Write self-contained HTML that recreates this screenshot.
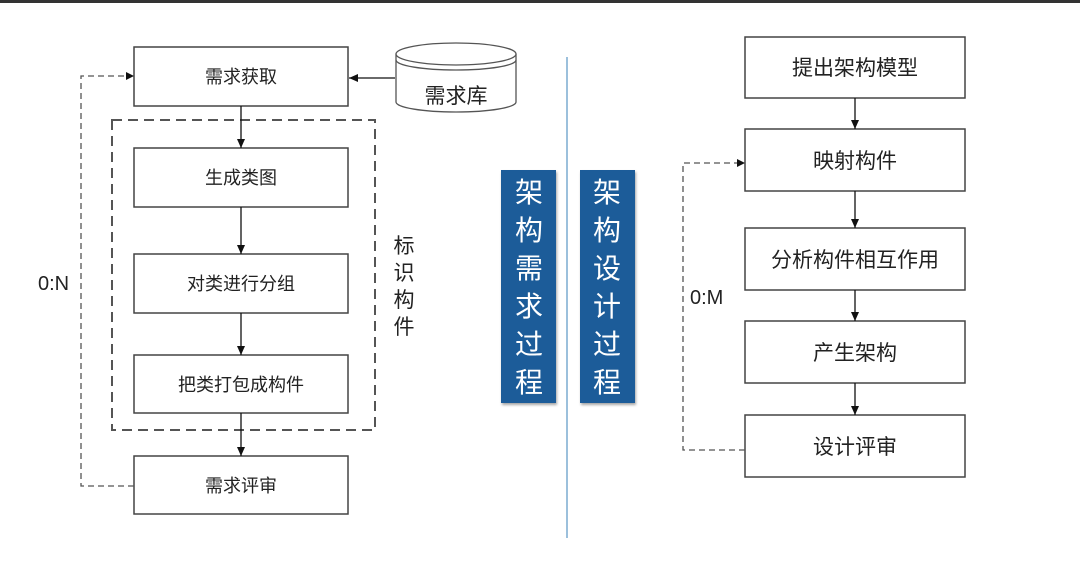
<!DOCTYPE html>
<html><head><meta charset="utf-8"><style>
html,body{margin:0;padding:0;background:#fff;}
svg text{font-family:"Liberation Sans","Noto Sans CJK SC",sans-serif;}
</style></head><body>
<svg width="1080" height="576" viewBox="0 0 1080 576" xmlns="http://www.w3.org/2000/svg">
<defs>
<marker id="a" markerWidth="10" markerHeight="10" refX="9" refY="5" orient="auto" markerUnits="userSpaceOnUse"><path d="M0,1 L9,5 L0,9 z" fill="#111"/></marker>
<filter id="sh"><feDropShadow dx="1" dy="2" stdDeviation="1.2" flood-opacity="0.35"/></filter>
</defs>
<rect x="0" y="0" width="1080" height="3" fill="#333"/>
<g stroke="#444" stroke-width="1.5" fill="#fff">
<rect x="134" y="47" width="214" height="59"/>
<rect x="134" y="148" width="214" height="59"/>
<rect x="134" y="254" width="214" height="59"/>
<rect x="134" y="355" width="214" height="58"/>
<rect x="134" y="456" width="214" height="58"/>
<rect x="745" y="37" width="220" height="61"/>
<rect x="745" y="129" width="220" height="62"/>
<rect x="745" y="228" width="220" height="62"/>
<rect x="745" y="321" width="220" height="62"/>
<rect x="745" y="415" width="220" height="62"/>
</g>
<rect x="112" y="120" width="263" height="310" fill="none" stroke="#555" stroke-width="2" stroke-dasharray="10,6"/>
<g stroke="#111" stroke-width="1.3" fill="none" marker-end="url(#a)">
<line x1="241" y1="106" x2="241" y2="148"/>
<line x1="241" y1="207" x2="241" y2="254"/>
<line x1="241" y1="313" x2="241" y2="355"/>
<line x1="241" y1="413" x2="241" y2="456"/>
<line x1="395" y1="78" x2="349" y2="78"/>
<line x1="855" y1="98" x2="855" y2="129"/>
<line x1="855" y1="191" x2="855" y2="228"/>
<line x1="855" y1="290" x2="855" y2="321"/>
<line x1="855" y1="383" x2="855" y2="415"/>
</g>
<g stroke="#555" stroke-width="1.3" fill="none" stroke-dasharray="6,4">
<polyline points="134,486 81,486 81,76 126,76"/>
<polyline points="745,450 683,450 683,163 737,163"/>
</g>
<path d="M126,72 L134,76 L126,80z" fill="#111"/>
<path d="M737,159 L745,163 L737,167z" fill="#111"/>
<g stroke="#555" stroke-width="1.3" fill="#fff">
<path d="M396,54 L396,102 A60,10 0 0 0 516,102 L516,54"/>
<ellipse cx="456" cy="54" rx="60" ry="11"/>
<path d="M396,60 A60,10 0 0 0 516,60" fill="none"/>
</g>
<text x="456" y="103" font-size="21" text-anchor="middle" fill="#222">需求库</text>
<line x1="567" y1="57" x2="567" y2="538" stroke="#9cc0dc" stroke-width="2"/>
<rect x="501" y="170" width="55" height="233" fill="#1f5c99" filter="url(#sh)"/>
<rect x="580" y="170" width="55" height="233" fill="#1f5c99" filter="url(#sh)"/>
<g font-size="28" fill="#fff" text-anchor="middle">
<text x="529" y="202">架</text><text x="529" y="240">构</text><text x="529" y="278">需</text><text x="529" y="316">求</text><text x="529" y="354">过</text><text x="529" y="392">程</text>
<text x="607" y="202">架</text><text x="607" y="240">构</text><text x="607" y="278">设</text><text x="607" y="316">计</text><text x="607" y="354">过</text><text x="607" y="392">程</text>
</g>
<g font-size="18" fill="#222" text-anchor="middle">
<text x="241" y="83">需求获取</text>
<text x="241" y="184">生成类图</text>
<text x="241" y="290">对类进行分组</text>
<text x="241" y="391">把类打包成构件</text>
<text x="241" y="492">需求评审</text>
</g>
<g font-size="21" fill="#222" text-anchor="middle">
<text x="855" y="75">提出架构模型</text>
<text x="855" y="168">映射构件</text>
<text x="855" y="267">分析构件相互作用</text>
<text x="855" y="360">产生架构</text>
<text x="855" y="454">设计评审</text>
</g>
<g font-size="21" fill="#222" text-anchor="middle">
<text x="404" y="253">标</text><text x="404" y="280">识</text><text x="404" y="307">构</text><text x="404" y="334">件</text>
</g>
<text x="38" y="290" font-size="20" fill="#222">0:N</text>
<text x="690" y="304" font-size="20" fill="#222">0:M</text>
</svg>
</body></html>
